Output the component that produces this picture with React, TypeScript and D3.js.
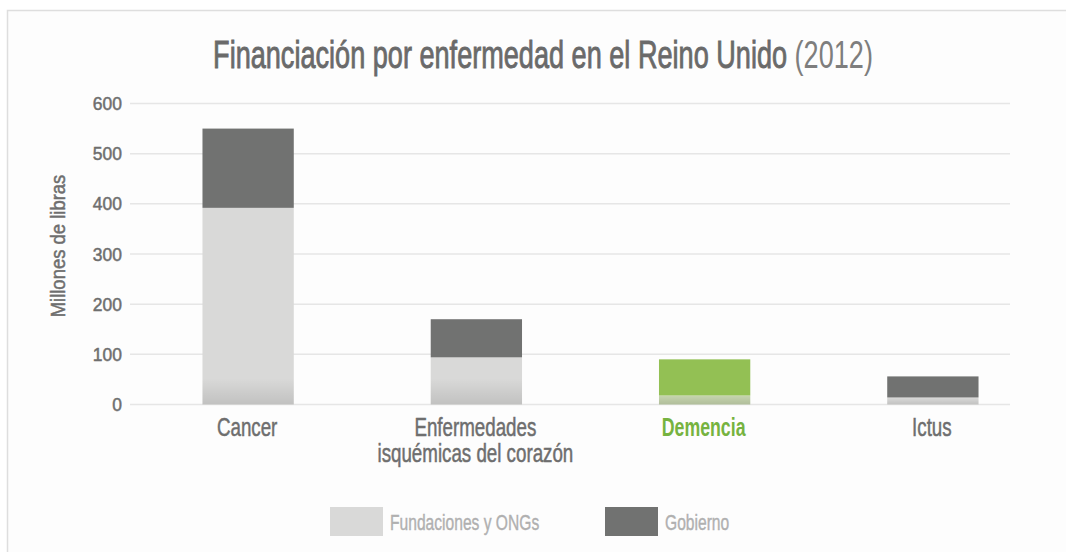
import { useEffect, useRef } from "react"
import * as d3 from "d3"

const categories = ["Cancer", "Enfermedades|isquémicas del corazón", "Demencia", "Ictus"]
const fundaciones = [392, 94, 18, 14]
const gobierno = [158, 76, 72, 42]
const yTicks = [0, 100, 200, 300, 400, 500, 600]
const highlight = "Demencia"

const FONT = "'Liberation Sans', Arial, sans-serif"

type Sel = d3.Selection<any, unknown, null, undefined>

// condensed-looking text: the original uses a narrow face, so squeeze horizontally
function addText(
  parent: Sel,
  x: number,
  y: number,
  str: string,
  size: number,
  sx: number,
  opts: { anchor?: string; fill?: string; weight?: string; rotate?: number; stroke?: number } = {}
) {
  const fill = opts.fill || "#6e6e6e"
  return parent
    .append("text")
    .attr("transform", `translate(${x},${y})${opts.rotate ? ` rotate(${opts.rotate})` : ""} scale(${sx},1)`)
    .attr("text-anchor", opts.anchor || "start")
    .attr("font-family", FONT)
    .attr("font-size", size)
    .attr("font-weight", opts.weight || "normal")
    .attr("fill", fill)
    .attr("stroke", opts.stroke ? fill : "none")
    .attr("stroke-width", opts.stroke || 0)
    .text(str)
}

export default function App() {
  const svgRef = useRef<SVGSVGElement>(null)

  useEffect(() => {
    if (!svgRef.current) return
    document.body.style.margin = "0"

    const svg = d3.select(svgRef.current) as Sel
    svg.selectAll("*").remove()

    const width = 1066
    const height = 552

    // frame
    svg
      .append("rect")
      .attr("x", 7.5)
      .attr("y", 10.5)
      .attr("width", width + 20)
      .attr("height", height + 20)
      .attr("fill", "#fdfdfd")
      .attr("stroke", "#dedede")
      .attr("stroke-width", 1.5)

    const defs = svg.append("defs")
    const grad = defs
      .append("linearGradient")
      .attr("id", "shade")
      .attr("x1", 0)
      .attr("y1", 0)
      .attr("x2", 0)
      .attr("y2", 1)
    grad.append("stop").attr("offset", "0%").attr("stop-color", "#000").attr("stop-opacity", 0)
    grad.append("stop").attr("offset", "100%").attr("stop-color", "#000").attr("stop-opacity", 0.11)

    const gridLeft = 130
    const gridRight = 1010

    const x = d3.scaleBand().domain(categories).range([134, 1047]).paddingInner(0.6).paddingOuter(0.3)
    const y = d3.scaleLinear().domain([0, 600]).range([404.5, 103.5])

    // title
    const title = svg
      .append("text")
      .attr("transform", "translate(543,68) scale(0.695,1)")
      .attr("text-anchor", "middle")
      .attr("font-family", FONT)
      .attr("font-size", 39)
      .attr("fill", "#6a6a6a")
    title
      .append("tspan")
      .attr("stroke", "#6a6a6a")
      .attr("stroke-width", 0.9)
      .text("Financiación por enfermedad en el Reino Unido ")
    title.append("tspan").attr("fill", "#7e7e7e").text("(2012)")

    // grid lines
    svg
      .append("g")
      .selectAll("line")
      .data(yTicks)
      .enter()
      .append("line")
      .attr("x1", gridLeft)
      .attr("x2", gridRight)
      .attr("y1", (d) => y(d))
      .attr("y2", (d) => y(d))
      .attr("stroke", "#e6e6e6")
      .attr("stroke-width", 1.5)

    // y tick labels
    const ticks = svg.append("g")
    yTicks.forEach((d) => addText(ticks, 122, y(d) + 6.5, String(d), 19, 0.92, { anchor: "end", stroke: 0.5 }))

    addText(svg, 65, 246, "Millones de libras", 21, 0.88, { anchor: "middle", rotate: -90, stroke: 0.5 })

    // bars
    const bars = svg.append("g")
    categories.forEach((c, i) => {
      const isHi = c === highlight
      const x0 = x(c) as number
      const bw = x.bandwidth()
      const f = fundaciones[i]
      const g = gobierno[i]

      bars
        .append("rect")
        .attr("x", x0)
        .attr("y", y(f))
        .attr("width", bw)
        .attr("height", y(0) - y(f))
        .attr("fill", isHi ? "#c6d5ae" : "#d9d9d8")

      const shadeH = Math.min(26, y(0) - y(f))
      bars
        .append("rect")
        .attr("x", x0)
        .attr("y", y(0) - shadeH)
        .attr("width", bw)
        .attr("height", shadeH)
        .attr("fill", "url(#shade)")

      bars
        .append("rect")
        .attr("x", x0)
        .attr("y", y(f + g))
        .attr("width", bw)
        .attr("height", y(f) - y(f + g))
        .attr("fill", isHi ? "#93c054" : "#717271")
    })

    // x labels
    const xl = svg.append("g")
    categories.forEach((c) => {
      const isHi = c === highlight
      const cx = (x(c) as number) + x.bandwidth() / 2 - 1
      c.split("|").forEach((line, k) => {
        addText(xl, cx, 436 + k * 26, line, 25, isHi ? 0.71 : 0.75, {
          anchor: "middle",
          fill: isHi ? "#76b340" : "#6e6e6e",
          weight: isHi ? "bold" : "normal",
          stroke: isHi ? 0 : 0.5,
        })
      })
    })

    // legend
    const legendItems = [
      { label: "Fundaciones y ONGs", color: "#d9d9d8", x: 330 },
      { label: "Gobierno", color: "#717271", x: 605 },
    ]
    const legend = svg.append("g")
    legendItems.forEach((d) => {
      legend.append("rect").attr("x", d.x).attr("y", 507).attr("width", 53).attr("height", 29).attr("fill", d.color)
      addText(legend, d.x + 60, 530, d.label, 22, 0.71, { fill: "#b0b0b0", stroke: 0.4 })
    })
  }, [])

  return (
    <svg
      ref={svgRef}
      width={1066}
      height={552}
      style={{ position: "absolute", left: 0, top: 0, display: "block" }}
    />
  )
}
